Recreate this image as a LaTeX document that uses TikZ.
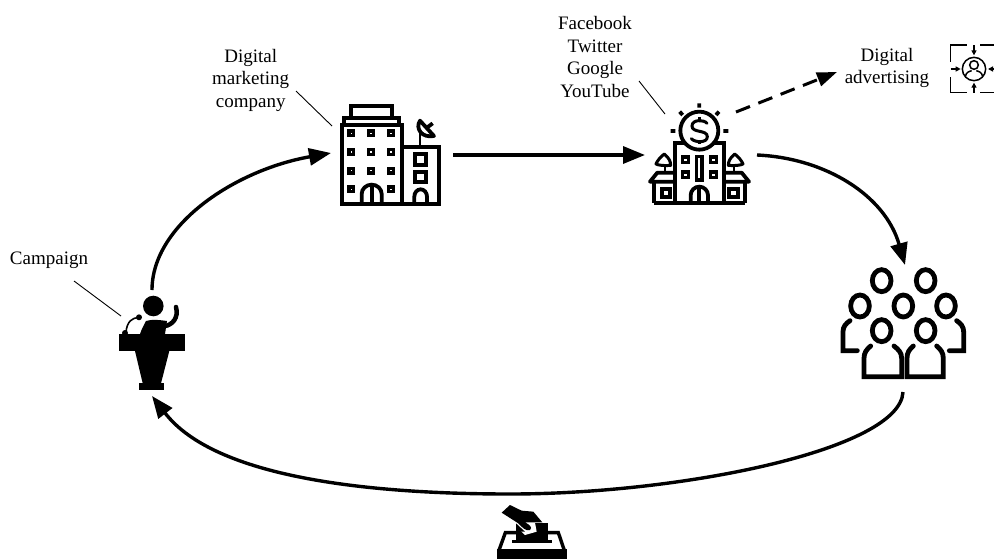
\documentclass[tikz,border=0pt]{standalone}
\usepackage{fontspec}
\setmainfont{Liberation Serif}
\usetikzlibrary{arrows.meta}
\tikzset{
 flow/.style={line width=3.4pt,-{Stealth[length=22pt,width=17pt,inset=0pt]}},
 adv/.style={line width=3pt,dash pattern=on 15pt off 9pt,-{Stealth[length=20pt,width=14pt,inset=0pt]}},
 leader/.style={line width=0.9pt},
 label/.style={font=\fontsize{19pt}{22.5pt}\selectfont,align=center,inner sep=0pt},
 ic/.style={line width=3.8pt},
 ico/.style={line width=1.5pt},
}
\begin{document}
\begin{tikzpicture}[x=1pt,y=-1pt]
\useasboundingbox (0,0) rectangle (994,558);
% anchors
\coordinate (podiumTop) at (152,290);
\coordinate (podiumBot) at (152,396);
\coordinate (bldgL) at (331,153);
\coordinate (bldgR) at (453,155);
\coordinate (bankL) at (645,155);
\coordinate (bankR) at (757,155);
\coordinate (bankD) at (736,112);
\coordinate (advL) at (837,72);
\coordinate (crowdTop) at (905,265);
\coordinate (crowdBot) at (903,392);
\coordinate (campA) at (74,281);
\coordinate (campB) at (121,316);
\coordinate (compA) at (296,91);
\coordinate (compB) at (332,126);
\coordinate (fbA) at (639,81);
\coordinate (fbB) at (665,114);
% labels
\node[label] (tcamp) at (49,260) {Campaign};
\node[label] (tcomp) at (250.7,80) {Digital\\marketing\\company};
\node[label] (tfb) at (595,57) {Facebook\\Twitter\\Google\\YouTube};
\node[label] (tadv) at (887,68) {Digital\\advertising};
% connectors
\draw[flow] (podiumTop) .. controls (152,225) and (235,170) .. (bldgL);
\draw[flow] (bldgR) -- (bankL);
\draw[flow] (bankR) .. controls (825,158) and (885,195) .. (crowdTop);
\draw[flow] (crowdBot) .. controls (900,450) and (680,494) .. (510,494) .. controls (370,494) and (215,478) .. (podiumBot);
\draw[adv] (bankD) -- (advL);
\draw[leader] (campA) -- (campB);
\draw[leader] (compA) -- (compB);
\draw[leader] (fbA) -- (fbB);
% podium speaker
\fill (153.3,306) circle (10.3);
\fill (140,334) .. controls (142,328) and (145,323) .. (146,321) .. controls (152,319) and (160,320) .. (167,321) -- (165,334) -- cycle;
\draw[line width=4.5pt,line cap=round] (165,326) .. controls (172,325) and (179,318) .. (176,307);
\fill (119.3,334) rectangle (184.7,351.3);
\fill (135,351) -- (169.3,351) -- (161,383.3) -- (142.7,383.3) -- cycle;
\fill (139.3,383.3) rectangle (164.3,390);
\draw[line width=1.6pt] (126,332) .. controls (127,322) and (132,317) .. (139,318);
\fill (139,317.3) circle (3);
\fill (125,333) circle (3);
% office
\begin{scope}[shift={(320,90)},x=0.3333pt,y=-0.3333pt]
\draw[ic] (66,342) rectangle (245,105);
\draw[ic] (72,102) -- (72,83) -- (238,83) -- (238,102);
\draw[ic] (92,80) -- (92,47) -- (217,47) -- (217,80);
\foreach \x in {94,153,213}\foreach \y in {130,186,242}\draw[line width=3.2pt] (\x-7,\y-7) rectangle (\x+7,\y+7);
\foreach \x in {94,213}\draw[line width=3.2pt] (\x-7,291) rectangle (\x+7,305);
\draw[ic] (125,342) -- (125,312) arc (180:360:30 and 28) -- (185,342);
\draw[ic] (155,284) -- (155,342);
\draw[ic] (245,172) -- (358,172) -- (358,342) -- (245,342);
\draw[ic] (285,193) rectangle (318,225);
\draw[ic] (285,245) rectangle (318,275);
\draw[ic] (283,342) -- (283,320) arc (180:360:19 and 22) -- (321,342);
\draw[line width=2.4pt] (300,172) -- (300,130);
\draw[ic,line join=round] (300,92) .. controls (285,115) and (305,145) .. (342,138) -- cycle;
\draw[ic] (318,115) -- (338,100);
\end{scope}
% bank
\begin{scope}[shift={(630,90)},x=0.3333pt,y=-0.3333pt]
\draw[ic] (208,122) circle (57);
\draw[line width=3pt,line cap=round] (231,100) .. controls (222,88) and (186,88) .. (186,108) .. controls (186,130) and (232,118) .. (232,140) .. controls (232,160) and (194,158) .. (184,146);
\draw[line width=3pt] (208,82) -- (208,90) (208,154) -- (208,162);
\draw[ic] (208,40) -- (208,53) (149,65) -- (158,75) (267,65) -- (258,75) (122,123) -- (136,123) (280,123) -- (295,123);
\draw[ic] (135,338) -- (135,158) -- (166,158) (250,158) -- (282,158) -- (282,338);
\draw[ic] (72,338) -- (345,338);
\draw[ic,line join=round] (135,275) -- (60,275) -- (82,248) -- (135,248);
\draw[ic,line join=round] (282,275) -- (357,275) -- (335,248) -- (282,248);
\draw[ic] (72,275) -- (72,338) (345,275) -- (345,338);
\foreach \x in {166,250}\foreach \y in {209,254}\draw[line width=3.2pt] (\x-9,\y-8) rectangle (\x+9,\y+8);
\draw[line width=3.2pt] (200,199) rectangle (216,270);
\draw[ic] (182,338) -- (182,316) arc (180:360:26 and 26) -- (234,338);
\draw[ic] (208,290) -- (208,338);
\draw[ic] (95,296) rectangle (120,320);
\draw[ic] (298,296) rectangle (323,320);
\foreach \s/\o in {1/0,-1/417}{
\begin{scope}[shift={(\o,0)},xscale=\s]
\draw[line width=2.4pt] (105,248) -- (105,226);
\draw[line width=3pt,line join=round] (103,192) .. controls (118,205) and (122,215) .. (122,226) .. controls (105,228) and (85,226) .. (78,222) .. controls (82,212) and (92,200) .. (103,192) -- cycle;
\end{scope}}
\end{scope}
% advertising
\begin{scope}[shift={(930,30)},x=0.3333pt,y=-0.3333pt]
\draw[ico] (110,45) -- (62,45) -- (62,95);
\draw[ico] (62,142) -- (62,187) -- (110,187);
\draw[ico] (150,45) -- (192,45);
\draw[ico] (150,187) -- (192,187);
\draw[ico] (132,117) circle (35);
\draw[ico] (132,105) circle (13);
\draw[ico] (106,140) .. controls (108,125) and (120,124) .. (125,122) (158,140) .. controls (156,125) and (144,124) .. (139,122);
\draw[ico,-{Stealth[length=5pt,width=5pt,inset=0pt]}] (132,45) -- (132,76);
\draw[ico,-{Stealth[length=5pt,width=5pt,inset=0pt]}] (132,188) -- (132,158);
\draw[ico,-{Stealth[length=5pt,width=5pt,inset=0pt]}] (62,117) -- (92,117);
\draw[ico,-{Stealth[length=5pt,width=5pt,inset=0pt]}] (192,117) -- (174,117);
\end{scope}
% crowd
\begin{scope}[shift={(830,260)},x=0.3333pt,y=-0.3333pt,line width=4.8pt]
\foreach \x/\y in {155/62,287/62,90/138,220/138,348/138,155/212,287/212}\draw (\x,\y) ellipse (28 and 33);
\draw[line cap=round,line join=miter] (122,258) .. controls (110,268) and (102,278) .. (102,295) -- (102,350) -- (215,350) -- (215,295) .. controls (215,278) and (205,268) .. (192,258);
\draw[line cap=round,line join=miter] (250,258) .. controls (238,268) and (231,278) .. (231,295) -- (231,350) -- (340,350) -- (340,295) .. controls (340,278) and (332,268) .. (320,258);
\draw[line cap=round] (60,182) .. controls (48,190) and (39,200) .. (39,215) -- (39,272) -- (82,272);
\draw[line cap=round] (380,182) .. controls (392,190) and (401,200) .. (401,215) -- (401,272) -- (358,272);
\end{scope}
% ballot
\begin{scope}[shift={(480,490)},x=0.3333pt,y=-0.3333pt]
\fill (50,176) rectangle (260,210);
\draw[line width=3.4pt] (58,178) -- (76,128) -- (108,128);
\draw[line width=3.4pt] (252,178) -- (235,128) -- (203,128);
\fill (95,150) rectangle (215,158);
\fill (108,98) rectangle (203,152);
\fill[white] (100,85) -- (185,85) -- (185,98) -- (165,98) -- (170,125) -- (135,135) -- (100,100) -- cycle;
\fill (65,68) -- (90,45) -- (125,62) -- (160,65) -- (187,97) -- (135,97) .. controls (150,105) and (158,112) .. (150,120) .. controls (140,125) and (125,112) .. (115,100) -- cycle;
\fill (108,100) -- (135,125) -- (108,125) -- cycle;
\fill (170,98) rectangle (203,128);
\end{scope}
\end{tikzpicture}
\end{document}
